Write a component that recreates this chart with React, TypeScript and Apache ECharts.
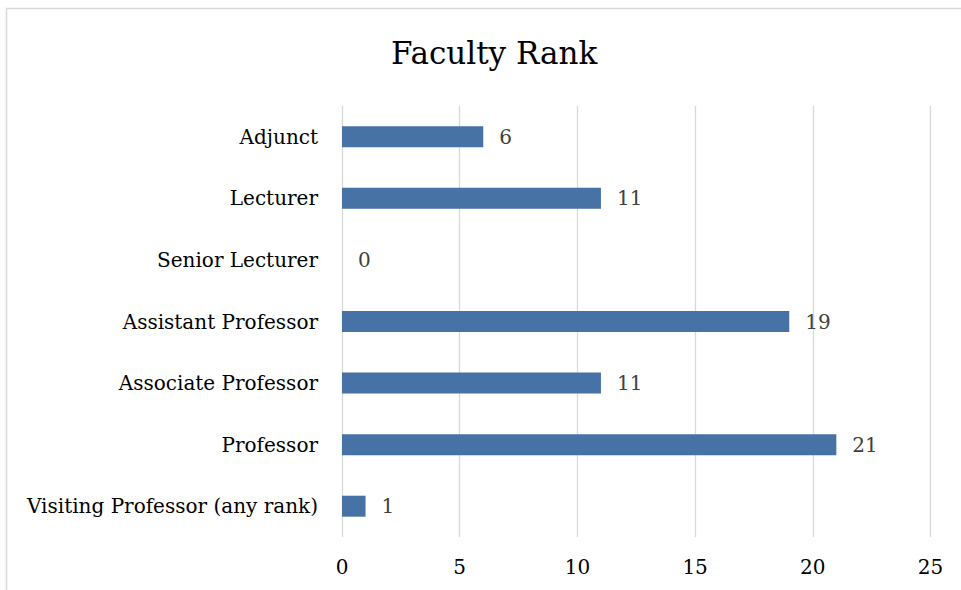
import React, { useEffect, useRef } from "react";
import * as echarts from "echarts";

const categories = [
  "Visiting Professor (any rank)",
  "Professor",
  "Associate Professor",
  "Assistant Professor",
  "Senior Lecturer",
  "Lecturer",
  "Adjunct",
];
const counts = [1, 21, 11, 19, 0, 11, 6];
const xMin = 0;
const xMax = 25;
const xInterval = 5;
const title = "Faculty Rank";

const FONT = "'DejaVu Serif', 'Liberation Serif', serif";

export default function App() {
  const ref = useRef<HTMLDivElement>(null);
  useEffect(() => {
    if (!ref.current) return;
    const chart = echarts.init(ref.current, undefined, { renderer: "svg" });
    chart.setOption({
      animation: false,
      backgroundColor: "#ffffff",
      title: {
        text: title,
        left: 386,
        top: 32,
        textStyle: { fontFamily: FONT, fontSize: 31, fontWeight: "normal", color: "#000000" },
      },
      graphic: [
        {
          type: "rect",
          shape: { x: 6.5, y: 8.5, width: 2000, height: 2000 },
          style: { fill: "none", stroke: "#d9d9d9", lineWidth: 1.5 },
          silent: true,
        },
      ],
      grid: { left: 342, right: 30.5, top: 106, bottom: 53, containLabel: false },
      xAxis: {
        type: "value",
        min: xMin,
        max: xMax,
        interval: xInterval,
        axisLine: { show: false },
        axisTick: { show: false },
        splitLine: { show: true, lineStyle: { color: "#d9d9d9", width: 1.3 } },
        axisLabel: { fontFamily: FONT, fontSize: 20, color: "#000000", margin: 20 },
      },
      yAxis: {
        type: "category",
        data: categories,
        axisLine: { show: false },
        axisTick: { show: false },
        axisLabel: { fontFamily: FONT, fontSize: 20, color: "#000000", margin: 24 },
      },
      series: [
        {
          type: "bar",
          data: counts,
          barWidth: 21,
          itemStyle: { color: "#4672A6" },
          label: {
            show: true,
            position: "right",
            distance: 16,
            fontFamily: FONT,
            fontSize: 20,
            color: "#404040",
          },
        },
      ],
    });
    return () => chart.dispose();
  }, []);
  return (
    <div
      ref={ref}
      style={{ position: "absolute", left: 0, top: 0, width: 961, height: 590 }}
    />
  );
}
